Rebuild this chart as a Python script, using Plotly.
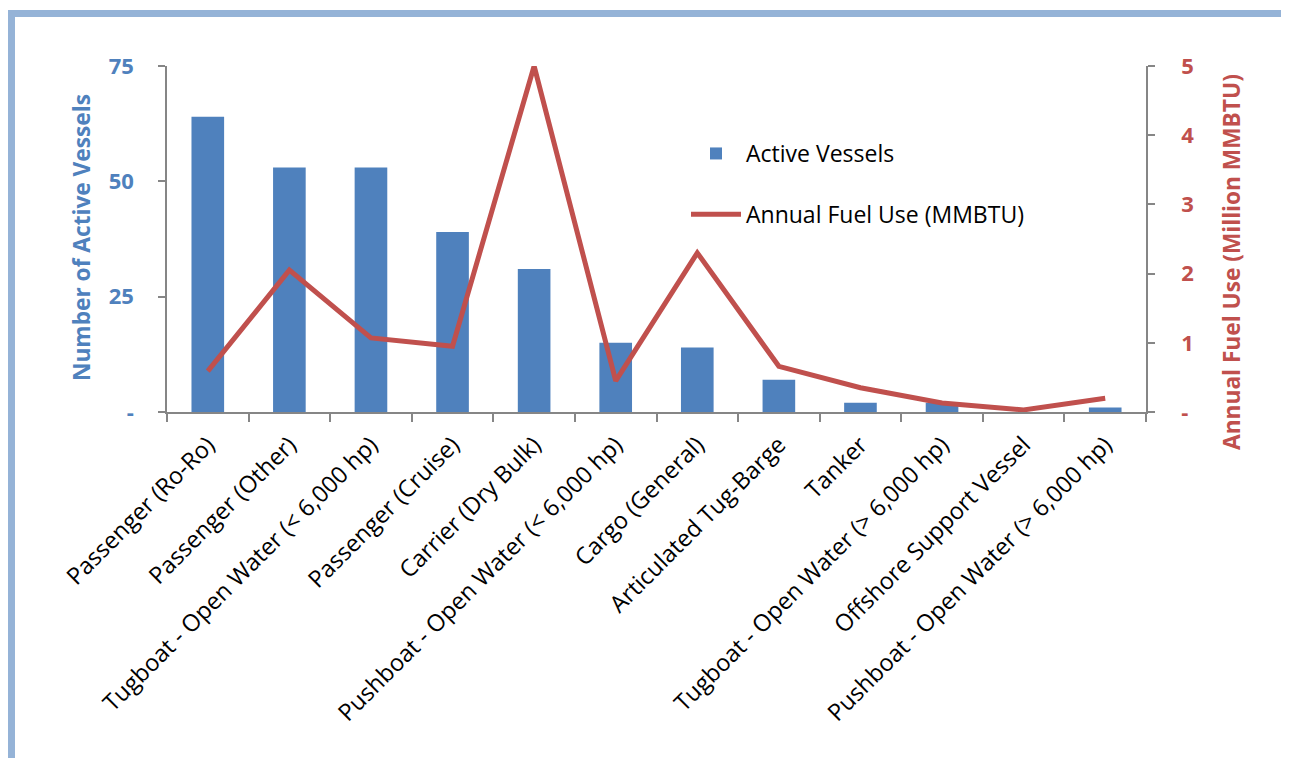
import plotly.graph_objects as go

categories = [
    "Passenger (Ro-Ro)", "Passenger (Other)", "Tugboat - Open Water (< 6,000 hp)",
    "Passenger (Cruise)", "Carrier (Dry Bulk)", "Pushboat - Open Water (< 6,000 hp)",
    "Cargo (General)", "Articulated Tug-Barge", "Tanker",
    "Tugboat - Open Water (> 6,000 hp)", "Offshore Support Vessel",
    "Pushboat - Open Water (> 6,000 hp)",
]
active_vessels = [64, 53, 53, 39, 31, 15, 14, 7, 2, 2, 0, 1]
fuel_use_mmbtu = [0.59, 2.05, 1.07, 0.95, 5.0, 0.45, 2.3, 0.66, 0.35, 0.13, 0.03, 0.2]

left_ticks = [0, 25, 50, 75]
left_ticktext = ["-", "25", "50", "75"]
right_ticks = [0, 1, 2, 3, 4, 5]
right_ticktext = ["-", "1", "2", "3", "4", "5"]

BLUE = "#4F81BD"
RED = "#C0504D"
GRAY = "#868686"
FONT = "Open Sans"

# page has an 8px body margin; work in figure coordinates = page - 8
OFF = 8
W, H = 1289 - OFF, 766 - 2 * OFF
L, R, T, B = 167 - OFF, 1146 - OFF, 66 - OFF, 412 - OFF

fig = go.Figure()
fig.add_trace(go.Bar(
    x=categories, y=active_vessels, name="Active Vessels",
    marker=dict(color=BLUE, line=dict(width=0)),
    legendgroup="a",
))
fig.add_trace(go.Scatter(
    x=categories, y=fuel_use_mmbtu, name="Annual Fuel Use (MMBTU)",
    mode="lines", line=dict(color=RED, width=5), yaxis="y2",
    cliponaxis=False, legendgroup="b",
))

def px_x(p):
    # p in page pixels
    return (p - OFF - L) / (R - L)

def px_y(p):
    return (B - (p - OFF)) / (B - T)

shapes = [
    dict(type="line", xref="paper", yref="paper", x0=px_x(11), x1=px_x(11),
         y0=px_y(10), y1=px_y(780), line=dict(color="#95B3D7", width=8)),
    dict(type="line", xref="paper", yref="paper", x0=px_x(7), x1=px_x(1300),
         y0=px_y(13.5), y1=px_y(13.5), line=dict(color="#95B3D7", width=7)),
]

annotations = [
    dict(text="<b>Number of Active Vessels</b>", xref="paper", yref="paper",
         x=px_x(81), y=px_y(238), xanchor="center", yanchor="middle",
         textangle=-90, showarrow=False,
         font=dict(family=FONT, size=22.7, color=BLUE)),
    dict(text="<b>Annual Fuel Use (Million MMBTU)</b>", xref="paper", yref="paper",
         x=px_x(1231), y=px_y(262), xanchor="center", yanchor="middle",
         textangle=-90, showarrow=False,
         font=dict(family=FONT, size=22.7, color=RED)),
]

fig.update_layout(
    width=W, height=H,
    margin=dict(l=L, r=W - R, t=T, b=H - B, pad=0),
    paper_bgcolor="white", plot_bgcolor="white",
    bargap=0.6,
    font=dict(family=FONT, color="black"),
    showlegend=True,
    legend=dict(
        x=px_x(686), y=px_y(132), xanchor="left", yanchor="top",
        font=dict(family=FONT, size=23, color="black"),
        traceorder="grouped", tracegroupgap=28,
        bgcolor="rgba(0,0,0,0)", itemwidth=50,
    ),
    xaxis=dict(
        type="category", showline=True, linecolor=GRAY, linewidth=1.5,
        ticks="outside", tickson="boundaries", ticklen=8, tickcolor=GRAY,
        tickwidth=1.5, tickangle=-45, ticklabelstandoff=8,
        tickfont=dict(family=FONT, size=23.5, color="black"),
        showgrid=False, zeroline=False,
    ),
    yaxis=dict(
        range=[0, 75], tickvals=left_ticks, ticktext=left_ticktext,
        showline=True, linecolor=GRAY, linewidth=1.5,
        ticks="outside", ticklen=7, tickcolor=GRAY, tickwidth=1.5,
        ticklabelstandoff=20,
        tickfont=dict(family=FONT, size=22, color=BLUE, weight="bold"),
        showgrid=False, zeroline=False,
    ),
    yaxis2=dict(
        range=[0, 5], tickvals=right_ticks, ticktext=right_ticktext,
        overlaying="y", side="right",
        showline=True, linecolor=GRAY, linewidth=1.5,
        ticks="outside", ticklen=7, tickcolor=GRAY, tickwidth=1.5,
        ticklabelstandoff=22,
        tickfont=dict(family=FONT, size=22, color=RED, weight="bold"),
        showgrid=False, zeroline=False,
    ),
    shapes=shapes,
    annotations=annotations,
)

fig.write_html("out.html")
